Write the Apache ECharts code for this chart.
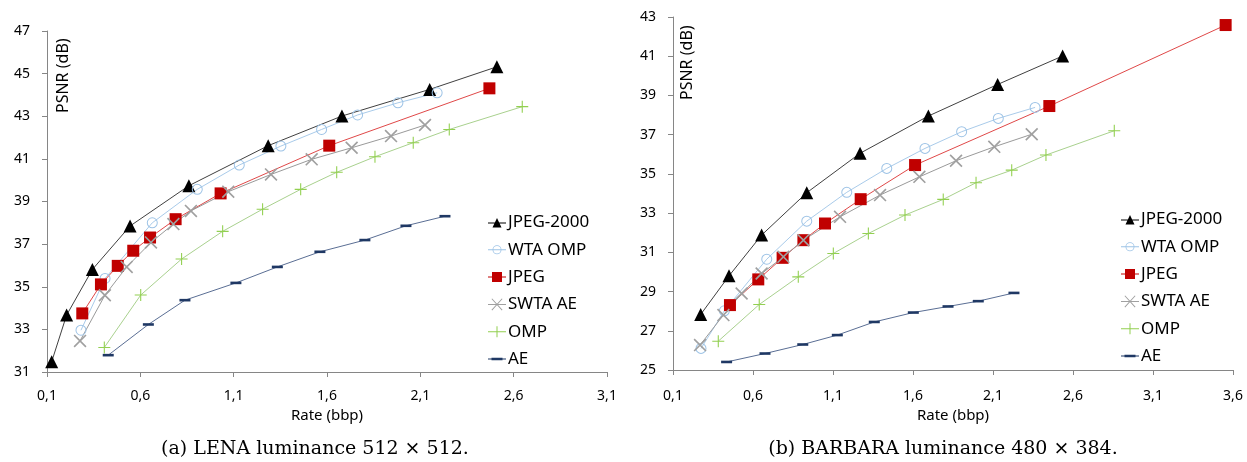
<!DOCTYPE html>
<html>
<head>
<meta charset="utf-8">
<script src="https://cdn.jsdelivr.net/npm/echarts@6/dist/echarts.min.js"></script>
<style>
  html, body { margin: 0; padding: 0; background: #fff; }
  #chart { width: 1247px; height: 462px; }
</style>
</head>
<body>
<div id="chart"></div>
<script>
// tick labels
const rateTicksA = [0.1, 0.6, 1.1, 1.6, 2.1, 2.6, 3.1];
const psnrTicksA = [31, 33, 35, 37, 39, 41, 43, 45, 47];
const rateTicksB = [0.1, 0.6, 1.1, 1.6, 2.1, 2.6, 3.1, 3.6];
const psnrTicksB = [25, 27, 29, 31, 33, 35, 37, 39, 41, 43];

const methods = ["JPEG-2000", "WTA OMP", "JPEG", "SWTA AE", "OMP", "AE"];

// (a) LENA  [rate, psnr]
const lenaJ2k = [[0.125, 31.48], [0.205, 33.67], [0.343, 35.81], [0.545, 37.85], [0.86, 39.74], [1.285, 41.62], [1.68, 43.01], [2.15, 44.26], [2.51, 45.32]];
const lenaWtaOmp = [[0.282, 32.96], [0.411, 35.39], [0.664, 38.0], [0.905, 39.57], [1.13, 40.71], [1.353, 41.6], [1.571, 42.38], [1.764, 43.06], [1.98, 43.63], [2.19, 44.1]];
const lenaJpeg = [[0.289, 33.75], [0.389, 35.11], [0.479, 35.98], [0.562, 36.69], [0.652, 37.31], [0.789, 38.17], [1.03, 39.38], [1.612, 41.62], [2.47, 44.31]];
const lenaSwtaAe = [[0.277, 32.46], [0.41, 34.6], [0.527, 35.93], [0.657, 37.08], [0.777, 37.94], [0.871, 38.56], [1.071, 39.46], [1.3, 40.27], [1.518, 40.98], [1.732, 41.52], [1.943, 42.07], [2.125, 42.59]];
const lenaOmp = [[0.407, 32.15], [0.602, 34.61], [0.821, 36.3], [1.041, 37.6], [1.255, 38.64], [1.459, 39.57], [1.652, 40.37], [1.857, 41.1], [2.062, 41.76], [2.255, 42.38], [2.646, 43.45]];
const lenaAe = [[0.428, 31.79], [0.643, 33.23], [0.839, 34.37], [1.112, 35.18], [1.334, 35.93], [1.562, 36.64], [1.803, 37.19], [2.023, 37.86], [2.232, 38.31]];

// (b) BARBARA  [rate, psnr]
const barbJ2k = [[0.273, 27.83], [0.45, 29.8], [0.654, 31.88], [0.936, 34.04], [1.269, 36.05], [1.696, 37.95], [2.129, 39.56], [2.535, 41.01]];
const barbWtaOmp = [[0.275, 26.1], [0.421, 28.02], [0.686, 30.65], [0.936, 32.59], [1.186, 34.06], [1.436, 35.28], [1.675, 36.3], [1.904, 37.15], [2.133, 37.83], [2.363, 38.39]];
const barbJpeg = [[0.456, 28.31], [0.633, 29.62], [0.785, 30.72], [0.915, 31.62], [1.05, 32.47], [1.273, 33.71], [1.613, 35.45], [2.452, 38.46], [3.554, 42.59]];
const barbSwtaAe = [[0.269, 26.27], [0.415, 27.8], [0.529, 28.9], [0.654, 29.92], [0.79, 30.77], [0.915, 31.62], [1.144, 32.81], [1.394, 33.92], [1.64, 34.85], [1.869, 35.67], [2.108, 36.38], [2.342, 37.02]];
const barbOmp = [[0.383, 26.47], [0.639, 28.34], [0.883, 29.75], [1.102, 30.94], [1.321, 31.96], [1.55, 32.9], [1.789, 33.7], [1.994, 34.55], [2.217, 35.19], [2.431, 35.96], [2.858, 37.2]];
const barbAe = [[0.435, 25.41], [0.675, 25.84], [0.911, 26.3], [1.127, 26.78], [1.358, 27.45], [1.602, 27.93], [1.819, 28.24], [2.008, 28.51], [2.231, 28.93]];

let axisColor = "#868686";
let font = "'Noto Sans', 'Open Sans', sans-serif";
let serif = "'DejaVu Serif', 'Liberation Serif', serif";

let crossPath = "path://M0,0.9L0.9,0L10,9.1L9.1,10Z M9.1,0L10,0.9L0.9,10L0,9.1Z";
let plusPath = "path://M0,4.55L10,4.55L10,5.45L0,5.45Z M4.55,0L5.45,0L5.45,10L4.55,10Z";
let ringPath = "path://M5,0A5,5 0 1,1 5,10A5,5 0 1,1 5,0Z M5,0.9A4.1,4.1 0 1,0 5,9.1A4.1,4.1 0 1,0 5,0.9Z";

// look of each method: marker, size, marker color, line color
let styles = {
  "JPEG-2000": { symbol: "triangle", size: 13, color: "#000000", line: "#404040" },
  "WTA OMP": { symbol: ringPath, size: 11, color: "#9dc3e6", line: "#a9cbea" },
  "JPEG": { symbol: "rect", size: 12, color: "#c00000", line: "#e04848" },
  "SWTA AE": { symbol: crossPath, size: 13, color: "#a0a0a0", line: "#9a9a9a" },
  "OMP": { symbol: plusPath, size: 12, color: "#92d050", line: "#a9d18e" },
  "AE": { symbol: "rect", size: [11, 2.6], color: "#1f3864", line: "#5a6e94" }
};

// legend icons drawn as line + marker, sized 18 x 14
let legendIcons = {
  "JPEG-2000": "path://M0,0M18,14M0,7h18v1h-18z M9,2.5L13.5,12H4.5Z",
  "WTA OMP": "path://M0,0M18,14M0,6.5h18v1h-18z M9,2.5A4.5,4.5 0 1,1 9,11.5A4.5,4.5 0 1,1 9,2.5Z M9,3.3A3.7,3.7 0 1,0 9,10.7A3.7,3.7 0 1,0 9,3.3Z",
  "JPEG": "path://M0,0M18,14M0,6.5h18v1h-18z M4,2h10v10h-10z",
  "SWTA AE": "path://M0,0M18,14M0,6.5h18v1h-18z M3.5,1.7L4.2,1L14.5,12.3L13.8,13Z M13.8,1L14.5,1.7L4.2,13L3.5,12.3Z",
  "OMP": "path://M0,0M18,14M0,6.5h18v1h-18z M8.5,1.5h1v11h-1z",
  "AE": "path://M0,0M18,14M0,6.5h18v1h-18z M3.5,5.7h11v2.6h-11z"
};

function makeSeries(name, data, idx) {
  let s = styles[name];
  return {
    name: name,
    type: "line",
    xAxisIndex: idx,
    yAxisIndex: idx,
    data: data,
    symbol: s.symbol,
    symbolSize: s.size,
    showAllSymbol: true,
    lineStyle: { color: s.line, width: 1 },
    itemStyle: { color: s.color, borderWidth: 0 },
    emphasis: { disabled: true },
    animation: false
  };
}

function fmt(v) {
  return v.toFixed(1).replace(".", ",");
}

function xAxis(idx, ticks, gap, margin) {
  return {
    type: "value",
    gridIndex: idx,
    min: ticks[0],
    max: ticks[ticks.length - 1],
    name: "Rate (bbp)",
    nameLocation: "middle",
    nameGap: gap,
    nameTextStyle: { fontFamily: font, fontSize: 15, color: "#000" },
    axisLine: { lineStyle: { color: axisColor } },
    axisTick: { show: true, length: 5, customValues: ticks, lineStyle: { color: axisColor } },
    axisLabel: { customValues: ticks, formatter: fmt, margin: margin, fontFamily: font, fontSize: 14, color: "#000" },
    splitLine: { show: false }
  };
}

function yAxis(idx, ticks) {
  return {
    type: "value",
    gridIndex: idx,
    min: ticks[0],
    max: ticks[ticks.length - 1],
    axisLine: { show: true, lineStyle: { color: axisColor } },
    axisTick: { show: true, length: 5, customValues: ticks, lineStyle: { color: axisColor } },
    axisLabel: { customValues: ticks, margin: 17, fontFamily: font, fontSize: 14, color: "#000" },
    splitLine: { show: false }
  };
}

function legend(left, top) {
  return {
    data: methods.map(function(m) {
      return { name: m, icon: legendIcons[m] };
    }),
    orient: "vertical",
    left: left,
    top: top,
    itemWidth: 18,
    itemHeight: 14,
    itemGap: 10.3,
    textStyle: { fontFamily: font, fontSize: 17, color: "#000", padding: [0, 0, 0, -3] },
    selectedMode: false
  };
}

let lenaData = [lenaJ2k, lenaWtaOmp, lenaJpeg, lenaSwtaAe, lenaOmp, lenaAe];
let barbData = [barbJ2k, barbWtaOmp, barbJpeg, barbSwtaAe, barbOmp, barbAe];

let series = [];
methods.forEach(function(m, i) {
  series.push(makeSeries(m, lenaData[i], 0));
  series.push(makeSeries(m, barbData[i], 1));
});

let option = {
  backgroundColor: "#fff",
  animation: false,
  grid: [
    { left: 47, top: 31, width: 560, height: 341 },
    { left: 673, top: 17, width: 560, height: 353 }
  ],
  xAxis: [xAxis(0, rateTicksA, 36, 17), xAxis(1, rateTicksB, 38, 19)],
  yAxis: [yAxis(0, psnrTicksA), yAxis(1, psnrTicksB)],
  legend: [legend(483, 209), legend(1116, 206)],
  series: series,
  graphic: [
    {
      type: "text", x: 63, y: 113, rotation: Math.PI / 2,
      style: { text: "PSNR (dB)", fontFamily: font, fontSize: 16, fill: "#000", textAlign: "left", textVerticalAlign: "middle" }
    },
    {
      type: "text", x: 687, y: 100, rotation: Math.PI / 2,
      style: { text: "PSNR (dB)", fontFamily: font, fontSize: 16, fill: "#000", textAlign: "left", textVerticalAlign: "middle" }
    },
    {
      type: "text", x: 315, y: 449,
      style: { text: "(a) LENA luminance 512 × 512.", fontFamily: serif, fontSize: 19, fill: "#000", textAlign: "center", textVerticalAlign: "middle" }
    },
    {
      type: "text", x: 943, y: 449,
      style: { text: "(b) BARBARA luminance 480 × 384.", fontFamily: serif, fontSize: 19, fill: "#000", textAlign: "center", textVerticalAlign: "middle" }
    }
  ]
};

let myChart = echarts.init(document.getElementById("chart"));
myChart.setOption(option);
</script>
</body>
</html>
